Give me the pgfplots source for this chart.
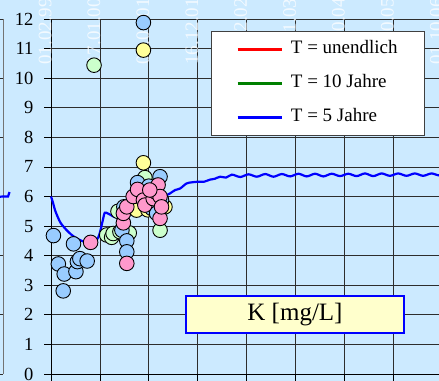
\documentclass[border=0pt]{standalone}
\usepackage{pgfplots}
\pgfplotsset{compat=1.18}
\usepackage{fontspec}
\setmainfont{Liberation Serif}

\definecolor{paneblue}{RGB}{204,234,255}
\definecolor{ptblue}{RGB}{153,204,255}
\definecolor{ptpink}{RGB}{255,153,204}
\definecolor{ptyellow}{RGB}{255,255,153}
\definecolor{ptgreen}{RGB}{204,255,204}
\definecolor{boxyellow}{RGB}{255,255,204}
\definecolor{gridgray}{RGB}{45,45,45}
\definecolor{legendgreen}{RGB}{0,128,0}

\begin{document}
\begin{tikzpicture}
\fill[paneblue] (0,0) rectangle (439bp,381bp);

% neighbouring panel on the left: only its right border is in view
\begin{axis}[
  at={(3bp,7bp)}, anchor=south east,
  x=50bp, y=29.58bp, xmin=0, xmax=2, ymin=0, ymax=12,
  axis x line=none, axis y line=right,
  axis line style={black!55, -, line width=0.8bp},
  ytick={0,2,...,12}, yticklabels={}, major tick length=0pt,
  ymajorgrids, grid style={gridgray, line width=0.8bp},
  clip=false,
]
\addplot[blue, line width=2.2bp] coordinates {(1.8,5.98) (2.0,6.0) (2.1,6.0) (2.13,6.15)};
\end{axis}

% main panel
\begin{axis}[
  at={(51bp,7bp)}, anchor=south west,
  x=48.9bp, y=29.58bp, xmin=0, xmax=9, ymin=0, ymax=12,
  axis lines=left, axis line style={black, -, line width=0.8bp},
  xtick={0,...,9}, ytick={0,...,12}, xticklabels={},
  tick align=outside, major tick length=7bp,
  tick style={black, line width=0.8bp},
  grid=major, grid style={gridgray, line width=0.8bp},
  clip=false,
  /pgf/number format/assume math mode=true,
  yticklabel style={font=\fontsize{18.5bp}{19bp}\selectfont, xshift=-7bp},
  legend cell align=left,
  legend style={
    at={(0.3636,0.9662)}, anchor=north west,
    draw=black!75, line width=0.8bp, fill=white,
    font=\fontsize{19bp}{22bp}\selectfont,
    inner xsep=25bp, inner ysep=7.5bp, row sep=13bp, column sep=6bp,
    nodes={inner sep=2bp, text height=13bp, text depth=4bp},
  },
  legend image code/.code={\draw[#1] (0bp,0bp) -- (44bp,0bp);},
]

% date labels of the top axis
\node[rotate=90, anchor=west, inner sep=0, text=white, opacity=0.75,
  font=\fontsize{19bp}{20bp}\selectfont] at (axis cs:-0.12,10.45) {01.02.99};
\node[rotate=90, anchor=west, inner sep=0, text=white, opacity=0.75,
  font=\fontsize{19bp}{20bp}\selectfont] at (axis cs:0.88,10.45) {17.01.00};
\node[rotate=90, anchor=west, inner sep=0, text=white, opacity=0.75,
  font=\fontsize{19bp}{20bp}\selectfont] at (axis cs:1.88,10.45) {02.01.01};
\node[rotate=90, anchor=west, inner sep=0, text=white, opacity=0.75,
  font=\fontsize{19bp}{20bp}\selectfont] at (axis cs:2.88,10.45) {16.12.01};
\node[rotate=90, anchor=west, inner sep=0, text=white, opacity=0.75,
  font=\fontsize{19bp}{20bp}\selectfont] at (axis cs:3.88,10.45) {01.12.02};
\node[rotate=90, anchor=west, inner sep=0, text=white, opacity=0.75,
  font=\fontsize{19bp}{20bp}\selectfont] at (axis cs:4.88,10.45) {16.11.03};
\node[rotate=90, anchor=west, inner sep=0, text=white, opacity=0.75,
  font=\fontsize{19bp}{20bp}\selectfont] at (axis cs:5.88,10.45) {31.10.04};
\node[rotate=90, anchor=west, inner sep=0, text=white, opacity=0.75,
  font=\fontsize{19bp}{20bp}\selectfont] at (axis cs:6.88,10.45) {16.10.05};
\node[rotate=90, anchor=west, inner sep=0, text=white, opacity=0.75,
  font=\fontsize{19bp}{20bp}\selectfont] at (axis cs:7.88,10.45) {01.10.06};

\addlegendimage{red, line width=2.5bp}
\addlegendentry{T = unendlich}
\addlegendimage{legendgreen, line width=2.5bp}
\addlegendentry{T = 10 Jahre}

% model curve, T = 5 years
\addplot[blue, line width=2.2bp, smooth, tension=0.5] coordinates {
  (0,6.00) (0.04,5.80) (0.08,5.55) (0.14,5.30) (0.20,5.10) (0.31,4.88)
  (0.41,4.72) (0.51,4.60) (0.63,4.50) (0.76,4.45) (0.88,4.45) (0.96,4.60)
  (1.00,4.78) (1.06,5.20) (1.10,5.45) (1.17,5.42) (1.25,5.35) (1.33,5.30)
  (1.45,5.45) (1.65,5.65) (1.85,5.80) (2.05,5.90) (2.25,5.98) (2.37,6.05)
  (2.43,6.10) (2.54,6.22) (2.64,6.27) (2.77,6.44) (2.88,6.48) (3.01,6.50)
  (3.13,6.50) (3.25,6.57) (3.35,6.60) (3.46,6.67) (3.58,6.64) (3.70,6.74)
  (3.87,6.66) (4.04,6.75) (4.21,6.67) (4.38,6.76) (4.55,6.67) (4.72,6.76)
  (4.89,6.68) (5.06,6.77) (5.23,6.68) (5.40,6.77) (5.57,6.68) (5.74,6.77)
  (5.91,6.69) (6.08,6.77) (6.25,6.69) (6.42,6.78) (6.59,6.69) (6.76,6.78)
  (6.93,6.70) (7.10,6.78) (7.27,6.70) (7.44,6.78) (7.61,6.70) (7.78,6.78)
  (7.95,6.71) (8.12,6.78)
};
\addlegendentry{T = 5 Jahre}

% measured concentrations
\addplot[forget plot, only marks, mark=*, mark size=7.3bp,
  mark options={fill=ptgreen, draw=black, line width=0.9bp}] coordinates {
  (0.88,10.44) (1.14,4.70) (1.24,4.62) (1.27,4.75) (1.41,4.81) (1.60,4.77)
  (1.37,5.50) (1.92,6.64) (2.23,4.86)
};
\addplot[forget plot, only marks, mark=*, mark size=7.3bp,
  mark options={fill=ptyellow, draw=black, line width=0.9bp}] coordinates {
  (1.89,10.95) (1.89,7.14) (1.75,5.54) (2.33,5.65) (1.98,5.55)
};
\addplot[forget plot, only marks, mark=*, mark size=7.3bp,
  mark options={fill=ptblue, draw=black, line width=0.9bp}] coordinates {
  (0.05,4.68) (0.15,3.72) (0.27,3.38) (0.25,2.81) (0.46,4.40) (0.51,3.46)
  (0.54,3.80) (0.59,3.90) (0.74,3.82) (1.89,11.88) (1.45,4.86) (1.55,4.50)
  (1.55,4.13) (1.49,5.65) (1.77,6.47) (2.23,6.67) (2.06,5.60) (2.16,5.43)
  (2.26,5.88) (2.00,6.35)
};
\addplot[forget plot, only marks, mark=*, mark size=7.3bp,
  mark options={fill=ptpink, draw=black, line width=0.9bp}] coordinates {
  (0.81,4.45) (1.55,3.74) (1.48,5.11) (1.48,5.43) (1.55,5.65) (1.68,6.00)
  (1.77,6.24) (1.89,5.88) (1.92,5.71) (2.09,5.93) (2.13,6.16) (2.19,6.39)
  (2.23,6.00) (2.23,5.26) (2.26,5.65) (2.02,6.22)
};
\end{axis}

\node[draw=blue, line width=1.3bp, fill=boxyellow, minimum width=218bp,
  minimum height=37bp, inner sep=0pt, font=\fontsize{25bp}{28bp}\selectfont]
  at (295bp,66.5bp) {K [mg/L]};

\pgfresetboundingbox
\path[use as bounding box] (0,0) rectangle (439bp,381bp);
\end{tikzpicture}
\end{document}
